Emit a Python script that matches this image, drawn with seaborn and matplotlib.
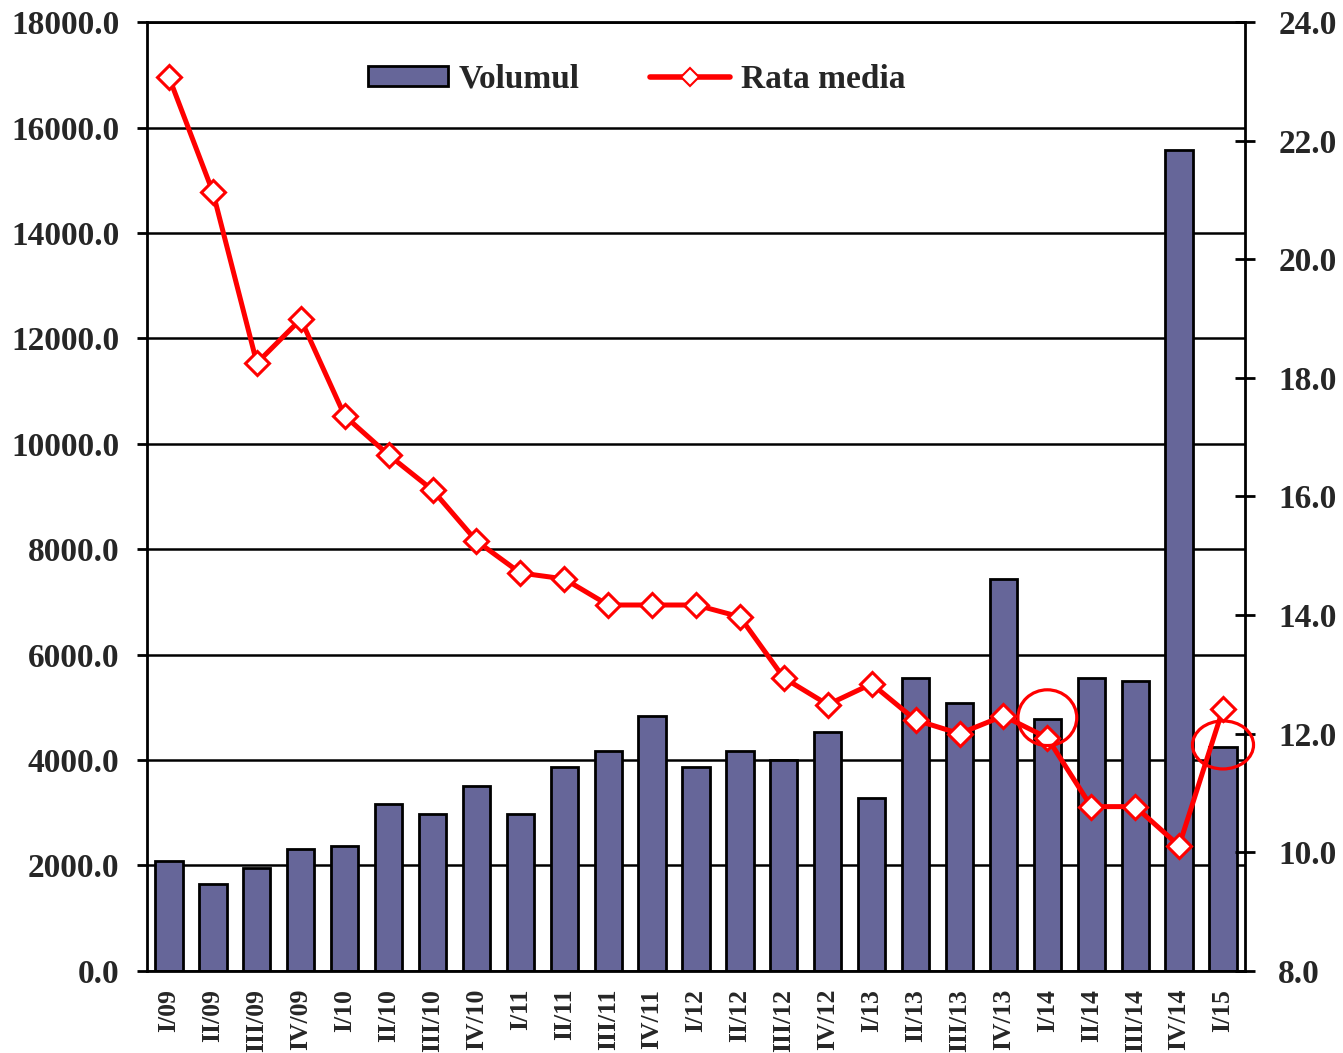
import numpy as np
import pandas as pd
import seaborn as sns
import matplotlib.pyplot as plt
from matplotlib.patches import Patch, Ellipse
from matplotlib.lines import Line2D
from matplotlib.ticker import FormatStrFormatter


# --- Data ---
quarters = ["I/09", "II/09", "III/09", "IV/09",
            "I/10", "II/10", "III/10", "IV/10",
            "I/11", "II/11", "III/11", "IV/11",
            "I/12", "II/12", "III/12", "IV/12",
            "I/13", "II/13", "III/13", "IV/13",
            "I/14", "II/14", "III/14", "IV/14",
            "I/15"]
volumul = [2080, 1650, 1955, 2315,
           2370, 3170, 2980, 3510,
           2980, 3870, 4170, 4840,
           3870, 4170, 4000, 4530,
           3280, 5560, 5080, 7440,
           4780, 5560, 5500, 15570,
           4250]
rata_media = [23.07, 21.13, 18.25, 18.99,
              17.36, 16.70, 16.11, 15.25,
              14.71, 14.61, 14.17, 14.17,
              14.17, 13.97, 12.94, 12.49,
              12.84, 12.23, 12.00, 12.30,
              11.93, 10.77, 10.77, 10.11,
              12.42]
left_ticks = np.arange(0, 18001, 2000)
right_ticks = np.arange(8, 24.1, 2)

BAR_COLOR = "#666699"
LINE_COLOR = "#FF0000"

df = pd.DataFrame({"Trimestru": quarters, "Volumul": volumul,
                   "Rata media": rata_media})
df["pos"] = np.arange(len(df))

# --- Style ---
sns.set_style("white")
plt.rcParams["font.family"] = ["Liberation Serif", "DejaVu Serif"]
plt.rcParams["font.weight"] = "bold"

fig = plt.figure(figsize=(13.43, 10.53), dpi=100)
ax = fig.add_axes([0.1095, 0.078, 0.8175, 0.901])

# --- Bars (left axis) ---
sns.barplot(data=df, x="Trimestru", y="Volumul", color=BAR_COLOR,
            saturation=1, width=0.62, edgecolor="black", linewidth=2,
            errorbar=None, ax=ax)

# --- Line (right axis) ---
ax2 = ax.twinx()
sns.lineplot(data=df, x="pos", y="Rata media", color=LINE_COLOR, lw=3.6,
             marker="D", markersize=12.5, markerfacecolor="white",
             markeredgecolor=LINE_COLOR, markeredgewidth=2.2, ax=ax2,
             zorder=4)

# highlight circles
for q, (dy, w, h) in {"I/14": (0.34, 1.34, 0.94),
                      "I/15": (-0.61, 1.39, 0.81)}.items():
    i = quarters.index(q)
    ax2.add_patch(Ellipse((i, rata_media[i] + dy), w, h, fill=False,
                          edgecolor=LINE_COLOR, lw=2.3, clip_on=False,
                          zorder=5))

# --- Axes formatting ---
n = len(quarters)
ax.set_xlim(-0.5, n - 0.5)
ax.set_ylim(0, 18000)
ax.set_yticks(left_ticks)
ax.yaxis.set_major_formatter(FormatStrFormatter("%.1f"))
ax2.set_ylim(8, 24)
ax2.set_yticks(right_ticks)
ax2.yaxis.set_major_formatter(FormatStrFormatter("%.1f"))

ax.set_xlabel("")
ax.set_ylabel("")
ax2.set_xlabel("")
ax2.set_ylabel("")

ax.set_axisbelow(True)
ax.yaxis.grid(True, color="black", lw=1.8)

ax.set_xticks(np.arange(n))
ax.set_xticklabels(quarters, rotation=90, va="top", ha="center")
ax.set_xticks(np.arange(-0.5, n, 1), minor=True)
ax.tick_params(axis="x", which="major", length=0, pad=13, labelsize=18.5)
ax.tick_params(axis="x", which="minor", length=6, width=1.8,
               direction="out", color="black")
ax.tick_params(axis="y", length=7, width=2, direction="out", pad=13,
               labelsize=24, color="black")
ax2.tick_params(axis="y", length=14, width=2, direction="inout", pad=17,
                labelsize=24, color="black")

for s in ["left", "bottom", "top"]:
    ax.spines[s].set_visible(True)
    ax.spines[s].set_linewidth(2)
    ax.spines[s].set_color("black")
ax.spines["right"].set_visible(False)
for s in ["left", "bottom", "top"]:
    ax2.spines[s].set_visible(False)
ax2.spines["right"].set_linewidth(2)
ax2.spines["right"].set_color("black")

# --- Legend ---
handles = [
    Patch(facecolor=BAR_COLOR, edgecolor="black", linewidth=2,
          label="Volumul"),
    Line2D([], [], color=LINE_COLOR, lw=4, marker="D", markersize=9,
           markerfacecolor="white", markeredgecolor=LINE_COLOR,
           markeredgewidth=1.5, label="Rata media"),
]
ax2.legend(handles=handles, loc="center left", ncol=2, frameon=False,
           bbox_to_anchor=(368 / 1343, 1 - 79 / 1053),
           bbox_transform=fig.transFigure, borderpad=0, borderaxespad=0,
           fontsize=24, handlelength=2.4, handleheight=0.55,
           handletextpad=0.33, columnspacing=2.1)

plt.savefig("out.png", dpi=100)
